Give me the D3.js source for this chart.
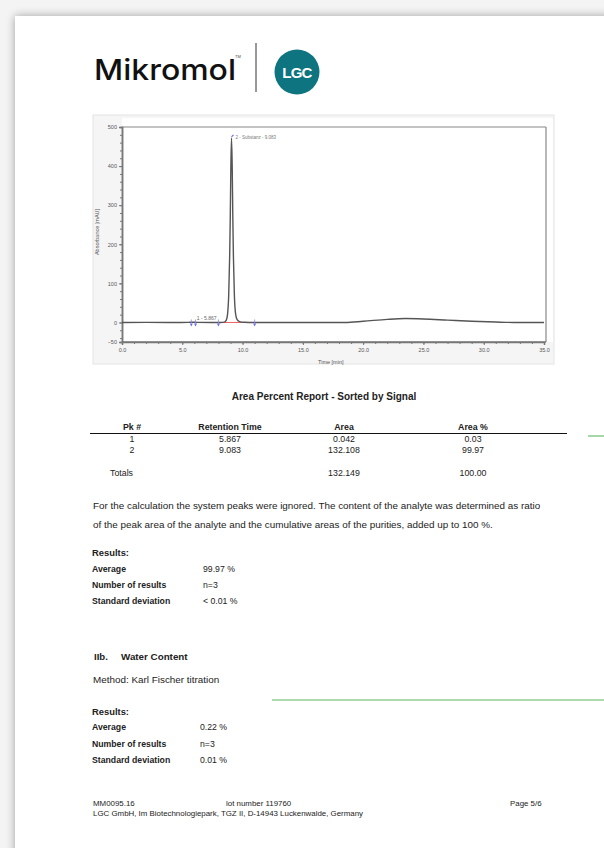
<!DOCTYPE html>
<html>
<head>
<meta charset="utf-8">
<script src="https://cdn.jsdelivr.net/npm/d3@7"></script>
<style>
  html, body { margin: 0; padding: 0; background: #f2f2f2; }
  svg { display: block; }
  text { font-family: "Liberation Sans", Arial, sans-serif; fill: #222; }
</style>
</head>
<body>
<svg id="svg" width="604" height="848"></svg>
<script>
// chromatogram trace, time [min] vs absorbance [mAU]
const traceTime = [0, 2, 4, 5.5, 5.867, 6.2, 7.5, 8.2, 8.5, 8.65, 8.75, 8.85, 8.93, 8.98, 9.03, 9.083,
  9.14, 9.19, 9.24, 9.32, 9.42, 9.55, 9.75, 10.1, 11, 14, 17, 18.5, 20, 22, 23.5, 25, 27, 29, 31, 32.5, 35];
const traceAbs = [0, 0.3, 0, 0.2, 0.6, 0.2, 0, 0, 1, 6, 20, 70, 170, 270, 400, 472,
  400, 270, 170, 70, 22, 7, 2, 0.5, 0, 0, 0, 0, 3, 8, 10, 9, 6, 3, 1, 0, 0];

const timeTicks = [0, 5, 10, 15, 20, 25, 30, 35];
const timeTickLabels = ['0.0', '5.0', '10.0', '15.0', '20.0', '25.0', '30.0', '35.0'];
const absTicks = [-50, 0, 100, 200, 300, 400, 500];

const peakTimes = [5.867, 9.083];
const peakLabels = ['1 - 5.867', '2 - Substanz - 9.083'];
const peakBounds = [[5.75, 6.1], [8.0, 11.0]];

// area percent table
const pkNums = ['1', '2'];
const retTimes = ['5.867', '9.083'];
const areas = ['0.042', '132.108'];
const areaPcts = ['0.03', '99.97'];
const totals = ['132.149', '100.00'];

const purityResults = [['Average', '99.97 %'], ['Number of results', 'n=3'], ['Standard deviation', '< 0.01 %']];
const waterResults = [['Average', '0.22 %'], ['Number of results', 'n=3'], ['Standard deviation', '0.01 %']];

const svg = d3.select('#svg');

// page with shadow
const defs = svg.append('defs');
const f = defs.append('filter').attr('id', 'shadow').attr('x', '-10%').attr('y', '-10%').attr('width', '120%').attr('height', '120%');
f.append('feGaussianBlur').attr('in', 'SourceAlpha').attr('stdDeviation', 5);
f.append('feOffset').attr('dx', 0).attr('dy', 0).attr('result', 'b');
f.append('feComponentTransfer').append('feFuncA').attr('type', 'linear').attr('slope', 0.35);
const fm = f.append('feMerge');
fm.append('feMergeNode');
fm.append('feMergeNode').attr('in', 'SourceGraphic');

svg.append('rect').attr('width', 604).attr('height', 848).attr('fill', '#f4f4f4');
svg.append('rect').attr('x', 15).attr('y', 16).attr('width', 620).attr('height', 860)
  .attr('fill', '#fff').attr('filter', 'url(#shadow)');

// logo
svg.append('text').attr('x', 94).attr('y', 80).text('Mikromol')
  .attr('textLength', 142).attr('lengthAdjust', 'spacingAndGlyphs')
  .style('font-family', 'Inter, "Noto Sans", sans-serif').style('font-size', '29px').style('font-weight', 500)
  .style('fill', '#111');
svg.append('text').attr('x', 235).attr('y', 58).text('TM').style('font-size', '4px').style('fill', '#444');
svg.append('line').attr('x1', 256).attr('x2', 256).attr('y1', 43).attr('y2', 92).attr('stroke', '#333').attr('stroke-width', 1);
svg.append('circle').attr('cx', 297).attr('cy', 72).attr('r', 22.5).attr('fill', '#0d7480');
svg.append('text').attr('x', 297).attr('y', 77.5).attr('text-anchor', 'middle').text('LGC')
  .style('font-size', '15px').style('font-weight', 700).style('fill', '#fff').style('letter-spacing', '-0.8px');

// chromatogram
const chart = { left: 122, right: 546, top: 127, bottom: 342 };
svg.append('rect').attr('x', 93).attr('y', 115).attr('width', 461).attr('height', 249)
  .attr('fill', '#f5f5f5').attr('stroke', '#e4e4e4');
svg.append('rect').attr('x', chart.left).attr('y', 118).attr('width', 431).attr('height', chart.bottom - 118)
  .attr('fill', '#fff');

const x = d3.scaleLinear().domain([0, 35]).range([122, 544]);
const y = d3.scaleLinear().domain([-50, 500]).range([chart.bottom, chart.top]);

// frame
svg.append('line').attr('x1', chart.left).attr('x2', chart.right).attr('y1', chart.top).attr('y2', chart.top)
  .attr('stroke', '#888').attr('stroke-width', 1);
svg.append('line').attr('x1', chart.right).attr('x2', chart.right).attr('y1', chart.top).attr('y2', chart.bottom)
  .attr('stroke', '#888').attr('stroke-width', 1.2);

const xAxis = d3.axisBottom(x).tickValues(timeTicks).tickFormat((d, i) => timeTickLabels[i]).tickSize(3).tickPadding(3);
const xMinor = d3.axisBottom(x).tickValues(d3.range(0, 36, 1)).tickFormat('').tickSize(2);
const yAxis = d3.axisLeft(y).tickValues(absTicks).tickSize(3).tickPadding(2);
const yMinor = d3.axisLeft(y).tickValues(d3.range(-40, 501, 20)).tickFormat('').tickSize(2);

const xg = svg.append('g').attr('transform', `translate(0,${chart.bottom})`);
xg.call(xMinor);
xg.append('g').call(xAxis);
const yg = svg.append('g').attr('transform', `translate(${chart.left},0)`);
yg.call(yMinor);
yg.append('g').call(yAxis);
svg.selectAll('.domain').attr('stroke', '#777').attr('stroke-width', 1.5);
svg.selectAll('.tick line').attr('stroke', '#777');
svg.selectAll('.tick text').style('font-size', '5.5px').style('fill', '#555');
xg.select('.domain').attr('d', `M${chart.left},0H${chart.right}`);

svg.append('text').attr('x', 318).attr('y', 364).text('Time [min]').style('font-size', '5.5px').style('fill', '#555');
svg.append('text').attr('transform', `translate(99,232) rotate(-90)`).attr('text-anchor', 'middle')
  .text('Absorbance [mAU]').style('font-size', '5.5px').style('fill', '#555');

// baseline of integration
svg.append('line').attr('x1', x(peakBounds[1][0])).attr('x2', x(peakBounds[1][1]))
  .attr('y1', y(0)).attr('y2', y(0)).attr('stroke', '#f06060').attr('stroke-width', 1);

const line = d3.line().x(d => x(d[0])).y(d => y(d[1])).curve(d3.curveMonotoneX);
svg.append('path').datum(d3.zip(traceTime, traceAbs))
  .attr('d', line).attr('fill', 'none').attr('stroke', '#555').attr('stroke-width', 1.4);

// peak bound markers
peakBounds.forEach(b => b.forEach(t => {
  svg.append('path').attr('d', `M${x(t) - 1.5},${y(0) + 1}L${x(t) + 1.5},${y(0) + 1}L${x(t)},${y(0) + 4}Z`)
    .attr('fill', '#6a6af0');
  svg.append('line').attr('x1', x(t)).attr('x2', x(t)).attr('y1', y(0) - 3).attr('y2', y(0) + 1)
    .attr('stroke', '#8a8af0').attr('stroke-width', 0.8);
}));

// peak labels
svg.append('text').attr('x', x(peakTimes[0]) + 4).attr('y', y(0) - 2).text(peakLabels[0])
  .style('font-size', '5px').style('fill', '#666');
svg.append('path').attr('d', `M${x(peakTimes[1])},${y(472) - 1}l2,-2`).attr('stroke', '#6a6af0').attr('stroke-width', 1.2);
svg.append('text').attr('x', x(peakTimes[1]) + 4).attr('y', y(472) + 1).text(peakLabels[1])
  .style('font-size', '4.5px').style('fill', '#777');

// area percent report
svg.append('text').attr('x', 324).attr('y', 400).attr('text-anchor', 'middle')
  .text('Area Percent Report - Sorted by Signal').style('font-size', '10px').style('font-weight', 700);

const colX = [132, 230, 344, 473];
const headers = ['Pk #', 'Retention Time', 'Area', 'Area %'];
svg.selectAll('.hdr').data(headers).join('text').attr('class', 'hdr')
  .attr('x', (d, i) => colX[i]).attr('y', 430).attr('text-anchor', 'middle').text(d => d)
  .style('font-size', '8.8px').style('font-weight', 700);
svg.append('line').attr('x1', 90).attr('x2', 567).attr('y1', 433.5).attr('y2', 433.5).attr('stroke', '#111').attr('stroke-width', 1);
svg.append('line').attr('x1', 588).attr('x2', 604).attr('y1', 436).attr('y2', 436).attr('stroke', '#4caf50').attr('stroke-width', 1);

const rows = pkNums.map((p, i) => [p, retTimes[i], areas[i], areaPcts[i]]);
rows.forEach((r, ri) => {
  r.forEach((v, ci) => {
    svg.append('text').attr('x', colX[ci]).attr('y', 441.5 + ri * 11).attr('text-anchor', 'middle')
      .text(v).style('font-size', '8.8px');
  });
});
svg.append('text').attr('x', 110).attr('y', 476).text('Totals').style('font-size', '8.8px');
totals.forEach((v, i) => {
  svg.append('text').attr('x', colX[i + 2]).attr('y', 476).attr('text-anchor', 'middle').text(v).style('font-size', '8.8px');
});

// paragraph
svg.append('text').attr('x', 93).attr('y', 508.5)
  .text('For the calculation the system peaks were ignored. The content of the analyte was determined as ratio')
  .style('font-size', '9.9px');
svg.append('text').attr('x', 93).attr('y', 527.5)
  .text('of the peak area of the analyte and the cumulative areas of the purities, added up to 100 %.')
  .style('font-size', '9.9px');

function results(top, rowsData, valX, rowYs) {
  svg.append('text').attr('x', 92).attr('y', top).text('Results:').style('font-size', '9.4px').style('font-weight', 700);
  rowsData.forEach((r, i) => {
    svg.append('text').attr('x', 92).attr('y', rowYs[i]).text(r[0]).style('font-size', '8.7px').style('font-weight', 700);
    svg.append('text').attr('x', valX).attr('y', rowYs[i]).text(r[1]).style('font-size', '8.7px');
  });
}
results(555.5, purityResults, 203, [572, 588, 604]);

svg.append('text').attr('x', 94).attr('y', 659.5).text('IIb.').style('font-size', '9.6px').style('font-weight', 700);
svg.append('text').attr('x', 121).attr('y', 659.5).text('Water Content').style('font-size', '9.8px').style('font-weight', 700);
svg.append('text').attr('x', 93).attr('y', 682.5).text('Method: Karl Fischer titration').style('font-size', '9.9px');
svg.append('line').attr('x1', 272).attr('x2', 604).attr('y1', 700).attr('y2', 700).attr('stroke', '#5cb85c').attr('stroke-width', 1);

results(714.5, waterResults, 200, [729.5, 746.5, 762.5]);

// footer
svg.append('text').attr('x', 93).attr('y', 805.5).text('MM0095.16').style('font-size', '7.9px');
svg.append('text').attr('x', 226).attr('y', 805.5).text('lot number 119760').style('font-size', '7.9px');
svg.append('text').attr('x', 510).attr('y', 805.5).text('Page 5/6').style('font-size', '7.9px');
svg.append('text').attr('x', 93).attr('y', 815.5).text('LGC GmbH, Im Biotechnologiepark, TGZ II, D-14943 Luckenwalde, Germany').style('font-size', '7.9px');
</script>
</body>
</html>
